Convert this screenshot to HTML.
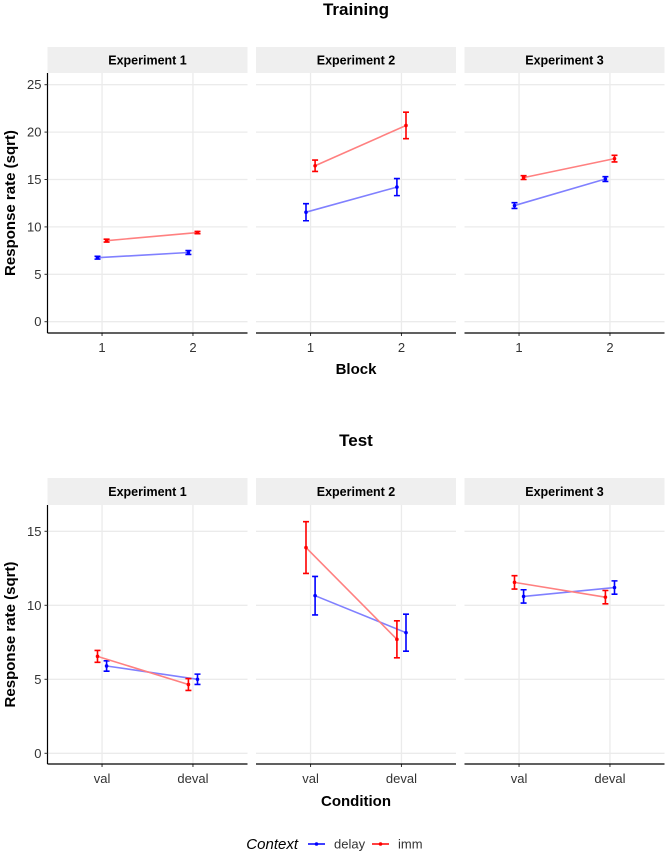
<!DOCTYPE html>
<html><head><meta charset="utf-8"><style>
body{margin:0;background:#fff;}
svg{display:block;font-family:"Liberation Sans",sans-serif;}
</style></head><body>
<svg id="c" width="665" height="853"></svg>
<script>
const experiments=["Experiment 1","Experiment 2","Experiment 3"];
const trainCats=["1","2"];
const trainDelay=[[6.75,7.3],[11.55,14.2],[12.25,15.05]];
const trainDelayErr=[[0.15,0.2],[0.9,0.9],[0.3,0.25]];
const trainImm=[[8.55,9.4],[16.45,20.7],[15.2,17.2]];
const trainImmErr=[[0.15,0.12],[0.6,1.4],[0.2,0.35]];
const trainTicks=[0,5,10,15,20,25];
const testCats=["val","deval"];
const testDelay=[[5.9,5.0],[10.65,8.15],[10.6,11.2]];
const testDelayErr=[[0.35,0.35],[1.3,1.25],[0.45,0.45]];
const testImm=[[6.55,4.65],[13.9,7.7],[11.55,10.55]];
const testImmErr=[[0.4,0.4],[1.75,1.25],[0.45,0.45]];
const testTicks=[0,5,10,15];

const NS="http://www.w3.org/2000/svg";
const svg=document.getElementById("c");
function el(tag,attrs,parent,txt){const e=document.createElementNS(NS,tag);for(const k in attrs)e.setAttribute(k,attrs[k]);if(txt!==undefined)e.textContent=txt;(parent||svg).appendChild(e);return e;}
const panelX=[47.5,256,464.5], panelW=200;

function drawFacet(o){
  const g=el("g",{});
  
  
  const y=v=>o.y0-(v)*(o.y0-o.yTop)/o.vTop;
  const t=el("text",{x:356,y:o.titleY,"text-anchor":"middle","font-size":"17","font-weight":"bold",fill:"#000"},g,o.title);
  
  
  experiments.forEach((ex,p)=>{
    const px=panelX[p];
    const x=(i,off)=>px+panelW*((i+1+off)-0.4)/2.2;
    const strip=el("rect",{x:px,y:o.stripTop,width:panelW,height:o.stripBot-o.stripTop,fill:"#efefef"},g);
    
    
    const st=el("text",{x:px+panelW/2,y:(o.stripTop+o.stripBot)/2+4.5,"text-anchor":"middle","font-size":"12.5","font-weight":"bold"},g,ex);
    
    
    o.ticks.forEach(tv=>{
      const gl=el("line",{x1:px,x2:px+panelW,y1:y(tv),y2:y(tv),stroke:"#ebebeb","stroke-width":1.3},g);
      
      
    });
    o.cats.forEach((c,i)=>{
      const gl=el("line",{x1:x(i,0),x2:x(i,0),y1:o.stripBot,y2:o.axisY,stroke:"#ebebeb","stroke-width":1.3},g);
      
      
      const tl=el("text",{x:x(i,0),y:o.axisY+19,"text-anchor":"middle","font-size":"13",fill:"#333"},g,c);
      
      
      el("line",{x1:x(i,0),x2:x(i,0),y1:o.axisY,y2:o.axisY+3,stroke:"#333"},g);
    });
    const series=[
      {vals:o.delay[p],err:o.delayErr[p],off:o.delayOff,line:"#8080ff",col:"#0000ff",n:"delay"},
      {vals:o.imm[p],err:o.immErr[p],off:-o.delayOff,line:"#ff8080",col:"#ff0000",n:"imm"}];
    series.forEach(s=>{
      const pts=s.vals.map((v,i)=>x(i,s.off)+","+y(v)).join(" ");
      const pl=el("polyline",{points:pts,fill:"none",stroke:s.line,"stroke-width":1.6},g);
      
      
      s.vals.forEach((v,i)=>{
        const cx=x(i,s.off),hi=y(v+s.err[i]),lo=y(v-s.err[i]);
        const eb=el("path",{d:`M${cx-3},${hi}H${cx+3}M${cx},${hi}V${lo}M${cx-3},${lo}H${cx+3}`,stroke:s.col,"stroke-width":1.6,fill:"none"},g);
        
        
        const pt=el("circle",{cx:cx,cy:y(v),r:1.8,fill:s.col},g);
        
        
      });
    });
    const ax=el("line",{x1:px,x2:px+panelW,y1:o.axisY,y2:o.axisY,stroke:"#000","stroke-width":1.2},g);
    
    
  });
  const ya=el("line",{x1:panelX[0],x2:panelX[0],y1:o.stripBot,y2:o.axisY,stroke:"#000","stroke-width":1.2},g);
  
  
  o.ticks.forEach(tv=>{
    el("line",{x1:panelX[0]-3,x2:panelX[0],y1:y(tv),y2:y(tv),stroke:"#333"},g);
    const tl=el("text",{x:panelX[0]-6,y:y(tv)+4.5,"text-anchor":"end","font-size":"13",fill:"#333"},g,String(tv));
    
    
  });
  const yt=el("text",{x:0,y:0,transform:`translate(15,${(o.stripBot+o.axisY)/2}) rotate(-90)`,"text-anchor":"middle","font-size":"15","font-weight":"bold"},g,"Response rate (sqrt)");
  
  
  const xt=el("text",{x:356,y:o.xTitleY,"text-anchor":"middle","font-size":"15","font-weight":"bold"},g,o.xTitle);
  
  
}
drawFacet({name:"training-plot",title:"Training",titleY:15,stripTop:47,stripBot:73,axisY:333,y0:321.7,yTop:84.7,vTop:25,ticks:trainTicks,cats:trainCats,delay:trainDelay,delayErr:trainDelayErr,imm:trainImm,immErr:trainImmErr,delayOff:-0.05,xTitle:"Block",xTitleY:374});
drawFacet({name:"test-plot",title:"Test",titleY:446,stripTop:478,stripBot:505,axisY:764,y0:753.3,yTop:531.3,vTop:15,ticks:testTicks,cats:testCats,delay:testDelay,delayErr:testDelayErr,imm:testImm,immErr:testImmErr,delayOff:0.05,xTitle:"Condition",xTitleY:806});

const lg=el("g",{});


el("text",{x:298,y:849,"text-anchor":"end","font-size":"15","font-style":"italic"},lg,"Context");
[["delay","#0000ff",308],["imm","#ff0000",372]].forEach(([n,c,lx])=>{
  const e=el("g",{},lg);
  
  
  el("line",{x1:lx,x2:lx+17,y1:844,y2:844,stroke:c,"stroke-width":1.6},e);
  el("circle",{cx:lx+8.5,cy:844,r:1.8,fill:c},e);
  el("text",{x:lx+26,y:848.5,"font-size":"13",fill:"#333"},e,n);
});
</script>
</body></html>
